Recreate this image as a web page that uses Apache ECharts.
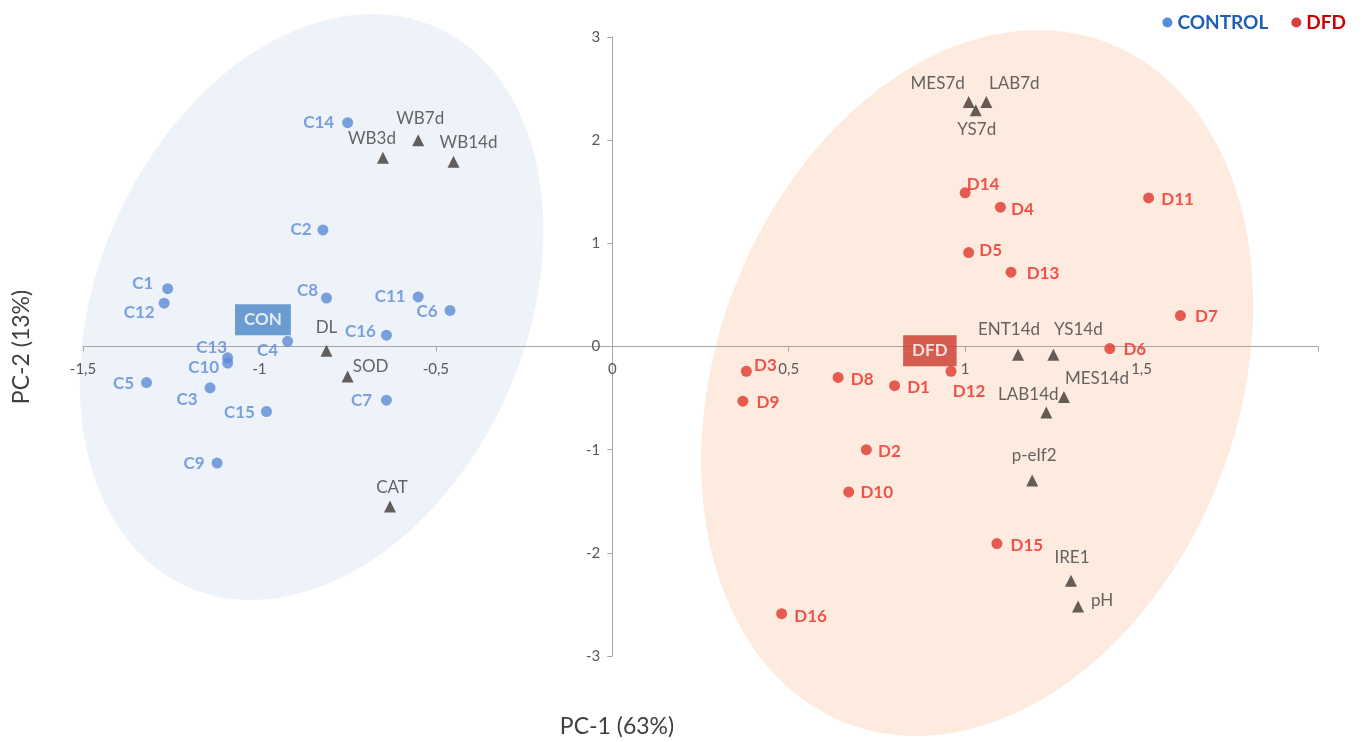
<!DOCTYPE html>
<html>
<head>
<meta charset="utf-8">
<script src="https://cdn.jsdelivr.net/npm/echarts@6/dist/echarts.min.js"></script>
<style>
  html, body { margin: 0; padding: 0; background: #ffffff; }
  #chart { width: 1365px; height: 742px; }
</style>
</head>
<body>
<div id="chart"></div>
<script>
// PCA scores: control samples (PC-1, PC-2)
const controlSamples = [
  ['C1', -1.26, 0.56], ['C2', -0.82, 1.13], ['C3', -1.14, -0.40], ['C4', -0.92, 0.05],
  ['C5', -1.32, -0.35], ['C6', -0.46, 0.35], ['C7', -0.64, -0.52], ['C8', -0.81, 0.47],
  ['C9', -1.12, -1.13], ['C10', -1.09, -0.16], ['C11', -0.55, 0.48], ['C12', -1.27, 0.42],
  ['C13', -1.09, -0.11], ['C14', -0.75, 2.17], ['C15', -0.98, -0.63], ['C16', -0.64, 0.11]
];

// PCA scores: DFD samples
const dfdSamples = [
  ['D1', 0.80, -0.38], ['D2', 0.72, -1.00], ['D3', 0.38, -0.24], ['D4', 1.10, 1.35],
  ['D5', 1.01, 0.91], ['D6', 1.41, -0.02], ['D7', 1.61, 0.30], ['D8', 0.64, -0.30],
  ['D9', 0.37, -0.53], ['D10', 0.67, -1.41], ['D11', 1.52, 1.44], ['D12', 0.96, -0.24],
  ['D13', 1.13, 0.72], ['D14', 1.00, 1.49], ['D15', 1.09, -1.91], ['D16', 0.48, -2.59]
];

// Variable loadings
const variables = [
  ['WB3d', -0.65, 1.83], ['WB7d', -0.55, 2.00], ['WB14d', -0.45, 1.79],
  ['DL', -0.81, -0.04], ['SOD', -0.75, -0.29], ['CAT', -0.63, -1.55],
  ['MES7d', 1.01, 2.37], ['LAB7d', 1.06, 2.37], ['YS7d', 1.03, 2.29],
  ['ENT14d', 1.15, -0.08], ['YS14d', 1.25, -0.08], ['MES14d', 1.28, -0.49],
  ['LAB14d', 1.23, -0.64], ['p-eIf2', 1.19, -1.30], ['IRE1', 1.30, -2.27], ['pH', 1.32, -2.52]
];

// Group tags
const groupTags = [['CON', -0.99, 0.26], ['DFD', 0.90, -0.04]];

// Group ellipses: centre and two conjugate semi-axis vectors, in PC units
const groupEllipses = [
  { center: [-0.852, 0.383], u: [0.634, 0], v: [-0.172, -2.840], fill: '#eef3fa' },
  { center: [1.034, -0.354], u: [0.763, 0], v: [-0.173, -3.422], fill: '#fdebe0' }
];

// Axis settings
const xRange = [-1.5, 2, 0.5];
const yRange = [-3, 3, 1];

// Label placement: text centre relative to its mark, in pixels
const labelOffsets = {
  C1: [-25, -5], C2: [-22, 0], C3: [-23, 12], C4: [-20, 9], C5: [-23, 1], C6: [-23, 1],
  C7: [-25, 0], C8: [-19, -7], C9: [-23, 0], C10: [-24, 5], C11: [-28, 0], C12: [-25, 9],
  C13: [-16, -10], C14: [-29, 0], C15: [-27, 1], C16: [-26, -4],
  D1: [24, 2], D2: [23, 2], D3: [19, -6], D4: [22, 2], D5: [22, -2], D6: [25, 1],
  D7: [26, 1], D8: [24, 2], D9: [25, 1], D10: [28, 1], D11: [29, 2], D12: [18, 20],
  D13: [32, 1], D14: [18, -8], D15: [30, 2], D16: [29, 3],
  WB3d: [-11, -19], WB7d: [2, -22], WB14d: [15, -19], DL: [0, -23], SOD: [23, -10],
  CAT: [2, -19], MES7d: [-31, -18], LAB7d: [28, -18], YS7d: [1, 19], ENT14d: [-9, -25],
  YS14d: [25, -25], MES14d: [33, -19], LAB14d: [-18, -18], 'p-eIf2': [2, -25],
  IRE1: [1, -23], pH: [24, -6]
};

const FONT = 'Lato, "Open Sans", sans-serif';
const GRID = { left: 83, right: 47, top: 37, bottom: 86 };

function toPoints(rows) {
  return rows.map(r => ({
    name: r[0],
    value: [r[1], r[2]],
    label: { offset: labelOffsets[r[0]] || [0, 0] }
  }));
}

function pointLabel(color, weight) {
  return {
    show: true,
    position: 'inside',
    align: 'center',
    verticalAlign: 'middle',
    formatter: p => p.name,
    color: color,
    fontFamily: FONT,
    fontSize: 17,
    fontWeight: weight
  };
}

const chartEl = document.getElementById('chart');
const chart = echarts.init(chartEl, null, { renderer: 'canvas' });

chart.setOption({
  backgroundColor: '#ffffff',
  animation: false,
  grid: Object.assign({ containLabel: false }, GRID),
  legend: {
    right: 14,
    top: 8,
    icon: 'circle',
    itemWidth: 10,
    itemHeight: 10,
    itemGap: 23,
    textStyle: { fontFamily: FONT, fontSize: 19, fontWeight: 'bold' },
    data: [
      { name: 'CONTROL', itemStyle: { color: '#2e6fd0' }, textStyle: { color: '#1f5fb5' } },
      { name: 'DFD', itemStyle: { color: '#d00d0d' }, textStyle: { color: '#cc0000' } }
    ]
  },
  xAxis: {
    type: 'value',
    min: xRange[0], max: xRange[1], interval: xRange[2],
    axisLine: { onZero: false, lineStyle: { color: '#a6a6a6', width: 1 } },
    axisTick: { show: true, length: 5, lineStyle: { color: '#a6a6a6' } },
    axisLabel: {
      color: '#595959', fontFamily: FONT, fontSize: 15, margin: 15,
      formatter: v => (v === xRange[1] ? '' : String(v).replace('.', ','))
    },
    splitLine: { show: false }
  },
  yAxis: {
    type: 'value',
    min: yRange[0], max: yRange[1], interval: yRange[2],
    axisLine: { onZero: false, lineStyle: { color: '#a6a6a6', width: 1 } },
    axisTick: { show: true, length: 5, lineStyle: { color: '#a6a6a6' } },
    axisLabel: { color: '#595959', fontFamily: FONT, fontSize: 15, margin: 12 },
    splitLine: { show: false }
  },
  graphic: [
    {
      type: 'text', x: 617, y: 727,
      style: { text: 'PC-1 (63%)', fill: '#404040', font: '23px ' + FONT, align: 'center', verticalAlign: 'middle' }
    },
    {
      type: 'text', x: 22, y: 347, rotation: Math.PI / 2,
      style: { text: 'PC-2 (13%)', fill: '#404040', font: '23px ' + FONT, align: 'center', verticalAlign: 'middle' }
    }
  ],
  series: [
    {
      type: 'custom',
      name: 'groups',
      silent: true,
      clip: false,
      z: 0,
      data: groupEllipses.map(e => e.center),
      renderItem: (params, api) => {
        const e = groupEllipses[params.dataIndex];
        const pts = [];
        const n = 180;
        for (let i = 0; i < n; i++) {
          const t = (i / n) * Math.PI * 2;
          const c = Math.cos(t), s = Math.sin(t);
          pts.push(api.coord([
            e.center[0] + e.u[0] * c + e.v[0] * s,
            e.center[1] + e.u[1] * c + e.v[1] * s
          ]));
        }
        return { type: 'polygon', shape: { points: pts }, style: { fill: e.fill } };
      }
    },
    {
      type: 'scatter',
      name: 'CONTROL',
      z: 3,
      symbol: 'circle',
      symbolSize: 11,
      itemStyle: { color: '#5b8bd6' },
      label: pointLabel('#5b8bd6', 'bold'),
      data: toPoints(controlSamples)
    },
    {
      type: 'scatter',
      name: 'DFD',
      z: 3,
      symbol: 'circle',
      symbolSize: 11,
      itemStyle: { color: '#e0372c' },
      label: pointLabel('#ee2a22', 'bold'),
      data: toPoints(dfdSamples)
    },
    {
      type: 'scatter',
      name: 'variables',
      z: 3,
      symbol: 'triangle',
      symbolSize: 12,
      itemStyle: { color: '#3f3833' },
      label: pointLabel('#404040', 'normal'),
      data: toPoints(variables)
    },
    {
      type: 'scatter',
      name: 'tags',
      z: 4,
      symbolSize: 1,
      itemStyle: { color: 'rgba(0,0,0,0)' },
      label: {
        show: true,
        position: 'inside',
        align: 'center',
        verticalAlign: 'middle',
        formatter: p => p.name,
        color: '#ffffff',
        fontFamily: FONT,
        fontSize: 17,
        fontWeight: 'bold',
        padding: [7, 9, 7, 9]
      },
      data: groupTags.map((r, i) => ({
        name: r[0],
        value: [r[1], r[2]],
        label: { backgroundColor: i === 0 ? '#4a86c5' : '#c9392c' }
      }))
    }
  ]
});

// Move both axes (line, ticks and labels) so they cross at the origin
const origin = chart.convertToPixel({ gridIndex: 0 }, [0, 0]);
const gridBottomY = chartEl.clientHeight - GRID.bottom;
chart.setOption({
  xAxis: { offset: -(gridBottomY - origin[1]) },
  yAxis: { offset: -(origin[0] - GRID.left) }
});
</script>
</body>
</html>
